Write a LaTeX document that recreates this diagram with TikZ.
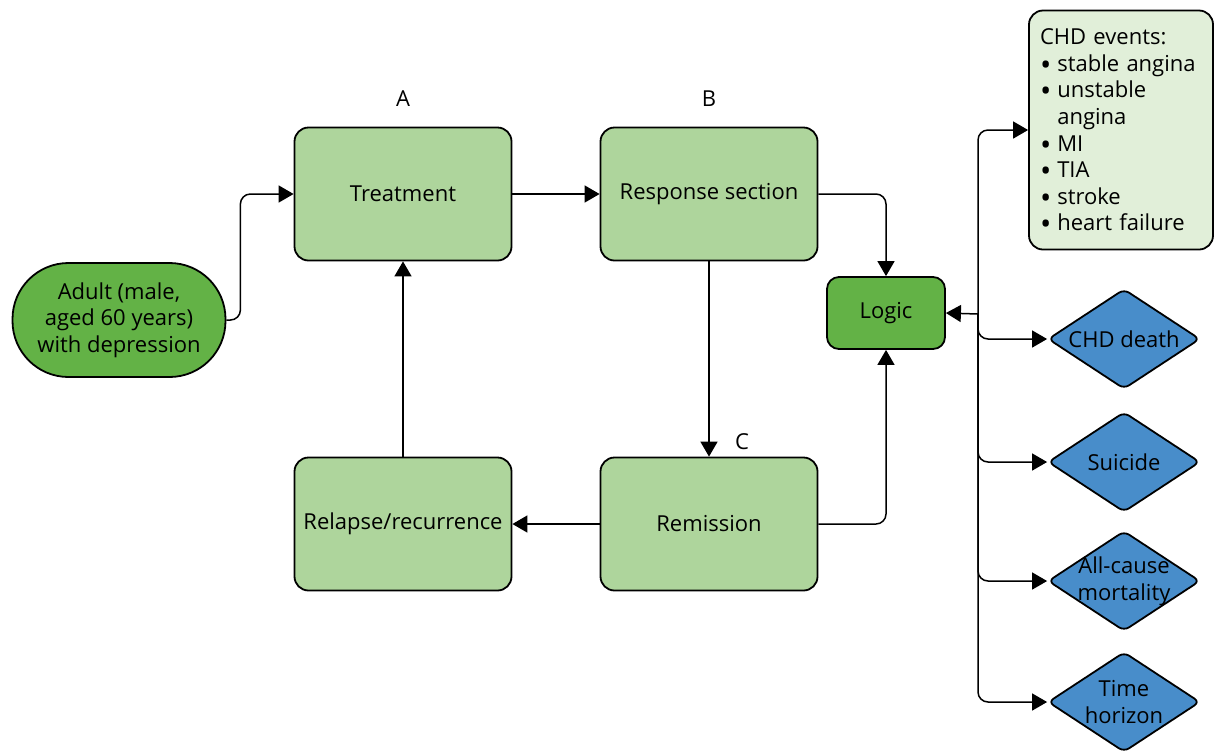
\documentclass[tikz,border=0pt]{standalone}
\usepackage{fontspec}
\setmainfont{Open Sans}
\usepackage{tikz}
\usetikzlibrary{arrows.meta, positioning, shapes.geometric}
\definecolor{adultgreen}{RGB}{99,178,70}
\definecolor{boxgreen}{RGB}{174,213,156}
\definecolor{eventgreen}{RGB}{225,239,217}
\definecolor{outcomeblue}{RGB}{72,141,202}
\newcommand{\evbullet}{\smash{\raisebox{-2pt}{\fontsize{15pt}{15pt}\selectfont •}}\hspace{3pt}}

\begin{document}
\begin{tikzpicture}[
  x=0.5pt, y=-0.5pt,
  font=\fontsize{11pt}{13.3pt}\selectfont,
  state/.style={rectangle, rounded corners=7pt, draw, line width=0.9pt, fill=boxgreen, minimum width=108.5pt, minimum height=66.5pt, inner sep=0pt, align=center},
  start/.style={rectangle, rounded corners=28pt, draw, line width=0.9pt, fill=adultgreen, minimum width=106.5pt, minimum height=57pt, inner sep=0pt, align=center},
  logicbox/.style={rectangle, rounded corners=6pt, draw, line width=0.9pt, fill=adultgreen, minimum width=59pt, minimum height=36pt, inner sep=0pt},
  events/.style={rectangle, rounded corners=7pt, draw, line width=0.9pt, fill=eventgreen, minimum width=92pt, minimum height=119.5pt, text width=81pt, align=left, inner sep=0pt},
  outcome/.style={diamond, rounded corners=3pt, draw, line width=0.9pt, fill=outcomeblue, minimum width=76pt, minimum height=50pt, inner sep=0pt},
  lbl/.style={inner sep=0pt},
  arr/.style={-{Triangle[length=7.5pt, width=8.5pt]}, line width=0.75pt, rounded corners=5pt}
]
  \useasboundingbox (0,0) rectangle (1214,751);

  % model states
  \node[start] (adult) at (119,320) {Adult (male,\\aged 60 years)\\with depression};
  \node[state] (treat) at (403,194) {Treatment};
  \node[state] (resp) at (709,194) {Response section};
  \node[state] (remis) at (709,524) {Remission};
  \node[state] (relapse) at (403,524) {Relapse/recurrence};
  \node[logicbox] (logic) at (886,313) {Logic};
  \node[lbl, above=10pt of treat] (labA) {A};
  \node[lbl, above=10pt of resp] (labB) {B};
  \node[lbl] (labC) at (742,442) {C};

  % outcomes
  \node[events] (chd) at (1121,130) {CHD events:\\
    \evbullet stable angina\\
    \evbullet unstable\\
    \hphantom{\evbullet}angina\\
    \evbullet MI\\
    \evbullet TIA\\
    \evbullet stroke\\
    \evbullet heart failure};
  \foreach \name/\y/\txt in {death/339/CHD death, suicide/462/Suicide, allcause/581/All-cause\\mortality, horizon/702/Time\\horizon} {
    \node[outcome, label={[align=center, inner sep=0pt]center:\txt}] (\name) at (1124,\y) {};
  }

  % connectors
  \draw[arr] (adult.east) -- ++(14,0) |- (treat.west);
  \draw[arr] (treat.east) -- (resp.west);
  \draw[arr] (resp.east) -| (logic.north);
  \draw[arr] (resp.south) -- (remis.north);
  \draw[arr] (remis.west) -- (relapse.east);
  \draw[arr] (relapse.north) -- (treat.south);
  \draw[arr] (remis.east) -| (logic.south);

  \coordinate (hub) at (978,314);
  \draw[arr] (hub) -- (logic.east);
  \draw[arr] (hub) |- (chd.west);
  \foreach \name in {death, suicide, allcause, horizon} {
    \draw[arr] (hub) |- (\name.west);
  }
\end{tikzpicture}
\end{document}
